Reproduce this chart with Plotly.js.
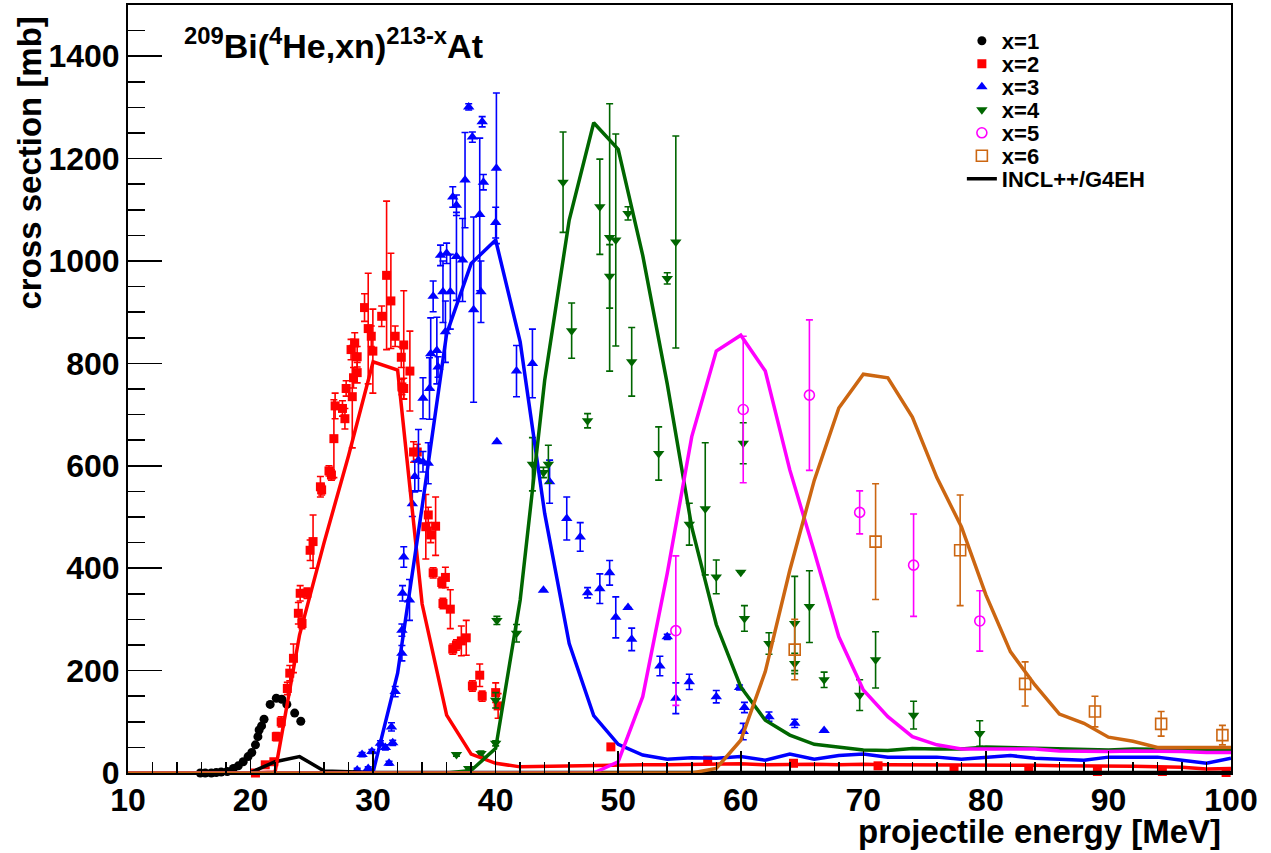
<!DOCTYPE html>
<html>
<head>
<meta charset="utf-8">
<script src="https://cdn.plot.ly/plotly-3.0.1.min.js"></script>
<style>
  html, body { margin: 0; padding: 0; background: #ffffff; }
  #chart { width: 1271px; height: 853px; }
</style>
</head>
<body>
<div id="chart"></div>
<script>
// ---------------- measured data (x = number of emitted neutrons) ----------------
const x1E  = [15.9,16.3,16.8,17.2,17.6,18.1,18.6,19.0,19.4,19.8,20.1,20.4,20.6,20.7,20.9,21.1,21.6,22.1,22.55,22.96,23.6,24.1];
const x1CS = [0,0,0,1,2,3,9,14,22,32,40,55,71,84,92,105,134,146,144,134,117,101];

const x2E   = [20.4,21.2,21.9,22.1,22.5,23.0,23.2,23.5,23.9,24.05,24.2,24.6,24.86,25.1,25.7,25.8,26.4,26.6,26.8,26.9,27.5,27.7,27.8,28.2,28.3,28.4,28.5,28.7,28.7,29.3,29.6,29.85,29.98,30.7,31.1,31.45,31.8,32.3,32.35,32.5,32.5,33.0,33.3,33.6,34.3,34.5,34.7,34.9,35.1,35.6,35.7,35.9,36.3,36.5,36.8,37.2,37.6,38.1,38.7,38.9,40.0,40.2,49.4,57.3,64.3,71.2,77.4,83.5,89.1,94.4,99.6];
const x2CS  = [0,16,22,71,100,165,195,224,312,351,292,351,435,452,559,553,590,582,653,717,712,692,751,827,735,772,840,782,813,909,868,853,824,892,972,922,853,812,754,836,751,785,627,627,481,504,465,391,482,372,331,382,320,242,250,258,264,170,191,150,157,131,51,25,19,14,9,6,3,3,1];
const x2Err = [0,5,5,8,10,12,15,28,21,15,10,10,20,52,20,10,10,10,76,25,15,20,15,20,100,20,20,20,20,27,108,20,82,20,145,93,20,20,15,106,20,78,20,15,63,15,15,10,57,10,10,20,38,10,10,29,34,10,22,10,19,24,6,4,3,3,2,2,2,2,2];

const x3E   = [28.7,29.1,29.6,29.9,30.6,31.0,31.3,31.5,31.6,31.8,32.35,32.35,32.4,32.5,32.97,33.2,33.4,33.7,34.07,34.07,34.5,34.6,34.7,34.9,35.2,35.3,35.5,35.7,35.9,36.0,36.3,36.5,36.8,36.8,37.3,37.5,37.8,38.1,38.2,38.7,38.8,38.9,39.0,40.0,40.06,40.1,41.7,43.0,43.9,44.4,45.8,46.9,47.5,48.5,49.3,49.8,50.8,51.1,53.4,54.0,54.7,55.8,58.0,59.9,60.3,60.2,62.3,64.4,66.8];
const x3CS  = [6,36,9,42,58,50,19,90,59,159,234,279,351,422,338,526,579,611,608,732,605,751,819,931,825,793,1011,940,862,1015,940,1125,1009,1109,1002,1158,1301,1242,905,1091,940,1272,1154,1075,1181,647,785,800,357,569,497,461,352,360,391,304,323,261,209,266,146,178,149,167,128,81,110,97,83];
const x3Err = [3,4,3,4,5,5,4,8,5,10,15,12,15,20,40,25,30,60,20,40,40,60,70,30,65,20,20,60,60,20,73,20,86,20,81,93,6,10,181,149,60,10,15,30,147,0,50,67,0,42,42,28,10,29,24,40,0,22,19,5,30,15,12,5,10,16,9,8,0];

const x4E   = [36.8,37.8,38.8,40.0,40.0,40.1,41.7,43.0,43.9,44.3,45.5,46.2,47.5,48.5,49.3,49.3,49.8,50.8,51.1,53.3,54.0,54.7,55.8,57.1,58.0,60.0,60.2,60.3,62.3,64.4,64.4,65.6,66.8,69.7,71.0,74.1,79.5];
const x4CS  = [36,9,38,58,142,298,273,603,587,603,1154,864,688,1106,1046,970,1041,1093,803,624,966,1037,486,516,383,392,644,302,253,292,214,325,182,152,221,113,77];
const x4Err = [3,3,5,5,15,8,17,52,10,37,98,54,14,93,261,62,207,13,67,52,11,207,41,129,33,0,40,25,21,92,20,70,15,30,55,27,25];

const x5E   = [54.7,60.2,65.6,69.7,74.1,79.5];
const x5CS  = [278,710,738,509,406,297];
const x5Err = [146,143,147,42,100,59];

const x6E   = [64.4,71.0,77.9,83.2,88.9,94.3,99.3];
const x6CS  = [241,452,435,174,120,96,74];
const x6Err = [59,113,108,43,30,24,19];

// ---------------- INCL++/G4EH calculation ----------------
const simE  = [10,12,14,16,18,20,22,24,26,28,30,32,34,36,38,40,42,44,46,48,50,52,54,56,58,60,62,64,66,68,70,72,74,76,78,80,82,84,86,88,90,92,94,96,98,100];
const simX1 = [0,0,0,0,0,1,22,32,4,2,1,1,1,1,1,1,1,1,1,1,1,1,1,1,1,1,1,1,1,1,1,1,1,1,1,1,1,1,1,1,1,1,1,1,1,1];
const simX2 = [0,0,0,0,0,0,2,270,450,620,803,787,330,113,37,19,12,13,14,14,15,16,16,17,17,18,16,17,17,16,17,16,16,16,16,15,15,15,14,14,13,13,12,11,8,9];
const simX3 = [0,0,0,0,0,0,0,0,0,0,2,195,520,858,995,1041,842,507,253,112,56,35,27,30,29,32,25,37,27,34,37,31,31,31,27,31,34,29,27,25,31,31,31,25,19,29];
const simX4 = [0,0,0,0,0,0,0,0,0,0,0,0,0,0,5,48,338,767,1080,1270,1218,1011,760,480,290,168,103,74,56,50,45,44,48,47,47,51,50,48,47,46,45,47,47,46,45,45];
const simX5 = [0,0,0,0,0,0,0,0,0,0,0,0,0,0,0,0,0,0,0,0,22,149,390,657,824,855,785,592,432,266,162,110,71,55,47,47,47,47,43,42,42,43,43,42,40,40];
const simX6 = [0,0,0,0,0,0,0,0,0,0,0,0,0,0,0,0,0,0,0,0,0,0,0,0,9,64,198,396,572,713,779,772,695,577,481,348,237,172,115,97,70,62,50,50,50,50];

const seriesNames = ['x=1','x=2','x=3','x=4','x=5','x=6'];
const seriesColors = ['#000000','#ff0000','#0000ff','#006600','#ff00ff','#cc6611'];
const modelName = 'INCL++/G4EH';

// ---------------- build traces ----------------
const FONT = 'Liberation Sans, Arial, Helvetica, sans-serif';
const legendIds = ['legend','legend2','legend3','legend4','legend5','legend6','legend7'];

function dataTrace(xs, ys, errs, idx, symbol, size, openLine) {
  const t = {
    type: 'scatter', mode: 'markers', x: xs, y: ys, name: seriesNames[idx],
    legend: legendIds[idx],
    cliponaxis: false,
    marker: { symbol: symbol, size: size, color: seriesColors[idx] },
    hoverinfo: 'x+y+name'
  };
  if (openLine) t.marker.line = { color: seriesColors[idx], width: 1.6 };
  if (errs) {
    t.error_y = { type: 'data', array: errs, visible: true, color: seriesColors[idx], thickness: 1.6, width: 3.5 };
  }
  return t;
}
function simTrace(ys, idx, show) {
  return {
    type: 'scatter', mode: 'lines', x: simE, y: ys,
    name: show ? modelName : 'INCL ' + seriesNames[idx],
    legend: 'legend7',
    showlegend: !!show,
    line: { color: show ? '#000000' : seriesColors[idx], width: 3.5 },
    hoverinfo: 'x+y'
  };
}

const traces = [
  dataTrace(x1E, x1CS, null, 0, 'circle', 9, false),
  dataTrace(x2E, x2CS, x2Err, 1, 'square', 9, false),
  dataTrace(x3E, x3CS, x3Err, 2, 'triangle-up', 10, false),
  dataTrace(x4E, x4CS, x4Err, 3, 'triangle-down', 10, false),
  dataTrace(x5E, x5CS, x5Err, 4, 'circle-open', 10, true),
  dataTrace(x6E, x6CS, x6Err, 5, 'square-open', 11, true),
  simTrace(simX1, 0, true),
  simTrace(simX2, 1, false),
  simTrace(simX3, 2, false),
  simTrace(simX4, 3, false),
  simTrace(simX5, 4, false),
  simTrace(simX6, 5, false)
];

// plot area in pixels: left 128, bottom 773, height 768
const legendRowsPx = [41, 64, 87, 110, 133, 156, 179];

const layout = {
  width: 1271, height: 853,
  margin: { l: 128, r: 40, t: 5, b: 80 },
  paper_bgcolor: '#ffffff', plot_bgcolor: '#ffffff',
  font: { family: FONT, color: '#000000', weight: 'bold' },
  showlegend: true,
  xaxis: {
    range: [10, 100], tick0: 10, dtick: 10,
    ticks: 'inside', ticklen: 22, tickwidth: 1.5, tickcolor: '#000000',
    showline: true, linewidth: 2, linecolor: '#000000', mirror: true,
    showgrid: false, zeroline: false, ticklabelstandoff: -2,
    tickfont: { family: FONT, size: 32, color: '#000000', weight: 'bold' },
    minor: { dtick: 2, ticks: 'inside', ticklen: 11, tickwidth: 1.5, tickcolor: '#000000', showgrid: false }
  },
  yaxis: {
    range: [0, 1500], tick0: 0, dtick: 200,
    ticks: 'inside', ticklen: 34, tickwidth: 1.5, tickcolor: '#000000',
    showline: true, linewidth: 2, linecolor: '#000000', mirror: true,
    showgrid: false, zeroline: false,
    tickfont: { family: FONT, size: 32, color: '#000000', weight: 'bold' },
    minor: { dtick: 50, ticks: 'inside', ticklen: 17, tickwidth: 1.5, tickcolor: '#000000', showgrid: false }
  },
  annotations: [
    {
      text: '<sup>209</sup>Bi(<sup>4</sup>He,xn)<sup>213-x</sup>At',
      xref: 'paper', yref: 'paper', x: 0.049, y: 0.95,
      xanchor: 'left', yanchor: 'middle', showarrow: false,
      font: { family: FONT, size: 34, color: '#000000', weight: 'bold' }
    },
    {
      text: 'projectile energy [MeV]',
      xref: 'paper', yref: 'paper', x: 0.993, y: -0.0765,
      xanchor: 'right', yanchor: 'middle', showarrow: false,
      font: { family: FONT, size: 33, color: '#000000', weight: 'bold' }
    },
    {
      text: 'cross section [mb]',
      xref: 'paper', yref: 'paper', x: -0.089, y: 0.988,
      xanchor: 'center', yanchor: 'top', textangle: -90, showarrow: false,
      font: { family: FONT, size: 33, color: '#000000', weight: 'bold' }
    }
  ]
};

legendIds.forEach(function (id, i) {
  layout[id] = {
    x: 0.756, y: (773 - legendRowsPx[i]) / 768, xanchor: 'left', yanchor: 'middle',
    bgcolor: 'rgba(255,255,255,0)', borderwidth: 0,
    font: { family: FONT, size: 22, color: '#000000', weight: 'bold' },
    itemwidth: 30, tracegroupgap: 0
  };
});

Plotly.newPlot('chart', traces, layout, { displayModeBar: false, staticPlot: true });
</script>
</body>
</html>
